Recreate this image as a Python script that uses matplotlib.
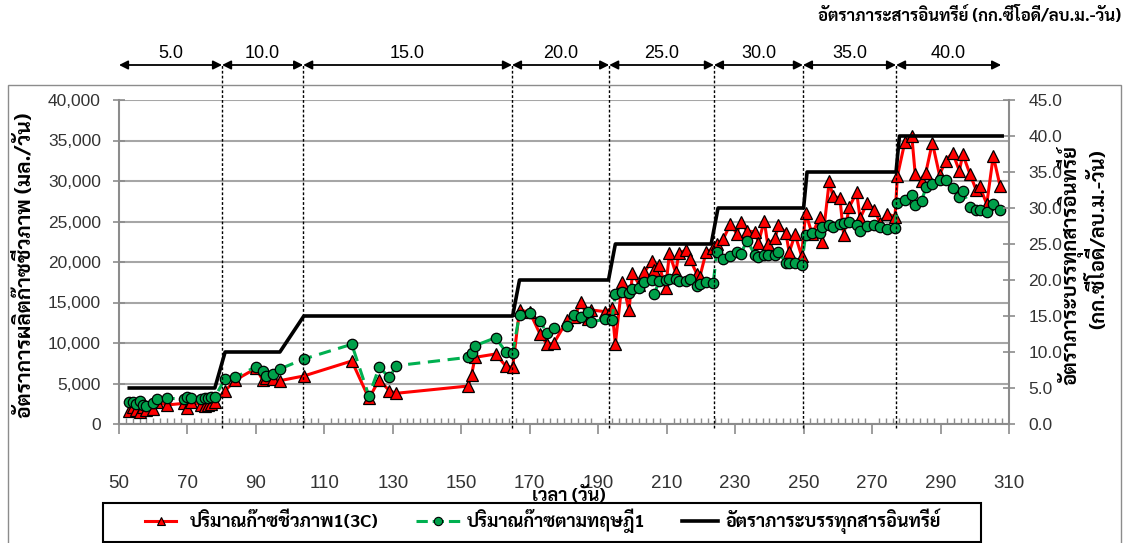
import matplotlib
matplotlib.use("Agg")
import matplotlib.pyplot as plt
from matplotlib import font_manager as fm
from matplotlib.ft2font import FT2Font
from matplotlib.patches import Rectangle
from matplotlib.lines import Line2D
from matplotlib.ticker import MultipleLocator, FuncFormatter
import matplotlib.transforms as mtransforms

# ---------------- data ----------------
days = [53, 54, 55, 56, 57, 58, 60, 61, 64, 69, 70, 71, 74, 75, 76, 77, 78,
        81, 84, 90, 92, 93, 95, 97, 104, 118, 123, 126, 129, 131,
        152, 153, 154, 160, 163, 165,
        167, 170, 173, 175, 177, 181, 183, 185, 187, 188, 192, 194,
        195, 197, 199, 200, 202, 203.5, 205.6, 206.4, 207.8, 209.7, 210.8,
        212.6, 213.6, 215.6, 216.8, 218.8, 219.7, 221.5, 223.6,
        224.6, 226.5, 228.6, 230.5, 231.6, 233.5, 235.8, 236.8, 238.5,
        239.5, 241.7, 242.6, 244.8, 245.8, 247.5, 249.4,
        250.6, 252.5, 254.7, 255.5, 257.5, 258.5, 260.6, 261.7, 263.4,
        265.5, 266.5, 268.6, 270.7, 272.3, 274.5, 276.7,
        277.4, 279.6, 281.6, 282.6, 284.5, 285.7, 287.6, 289.7, 291.5,
        293.5, 295.5, 296.5, 298.6, 300.4, 301.4, 303.5, 305.4, 307.4]

biogas = [1600, 2100, 1700, 1500, 2100, 1700, 1900, 2700, 2350, 2550, 2000, 2750, 2350, 2250, 2400, 2500, 2750,
          4100, 5430, 6870, 5430, 5640, 5510, 5350, 5930, 7780, 3170, 5430, 4115, 3790,
          4690, 6050, 8230, 8640, 7160, 7000,
          14075, 13800, 11110, 9877, 9960, 12840, 13200, 15100, 12960, 14075, 13870, 14280,
          9877, 17570, 14075, 18600, 17200, 18725, 20160, 19000, 19630, 16750, 21070,
          18725, 21070, 21480, 20370, 18520, 18190, 21200, 21690,
          22220, 22800, 24690, 23500, 24980, 23800, 23750, 22380, 25100,
          22220, 22920, 24570, 23600, 21200, 23400, 20740,
          26090, 23420, 25510, 22510, 30000, 28190, 27860, 23330, 26830,
          28600, 25390, 27320, 26420, 24860, 25930, 25600,
          30620, 34850, 35560, 30860, 30040, 31030, 34730, 30740, 32510,
          33500, 31270, 33290, 30860, 28890, 29380, 27160, 33090, 29380]

theory = [2670, 2750, 2500, 2900, 2350, 2200, 2650, 3050, 3170, 3100, 3300, 3200, 3100, 3200, 3250, 3300, 3370,
          5550, 5760, 7080, 6540, 5930, 6170, 6790, 8025, 9840, 3460, 7000, 5760, 7200,
          8230, 8725, 9670, 10650, 8930, 8800,
          13500, 13740, 12750, 11190, 11810, 12100, 13460, 13250, 13870, 12630, 12920, 12840,
          16050, 16340, 16130, 16670, 16750, 17490, 17780, 16050, 17690, 17780, 17900,
          17860, 17690, 17650, 17900, 17080, 17280, 17570, 17370,
          21200, 20330, 20800, 21200, 21000, 22630, 20860, 20580, 20860,
          20860, 20860, 21270, 19900, 19900, 19900, 19630,
          23330, 23620, 23620, 24360, 24570, 24280, 24690, 24860, 24980,
          24570, 23870, 24440, 24570, 24360, 24030, 24150,
          27320, 27650, 28270, 27040, 27530, 29220, 29630, 30120, 30120,
          29090, 28070, 28770, 26750, 26420, 26420, 26210, 27160, 26420]

olr_days = [53, 78, 81, 97, 104, 165, 167, 193, 195, 223, 225, 250, 251, 277, 278, 308]
olr_vals = [5, 5, 10, 10, 15, 15, 20, 20, 25, 25, 30, 30, 35, 35, 40, 40]

phase_edges = [50, 80.1, 103.8, 164.8, 193.2, 223.8, 249.8, 277.0, 307.7]
phase_labels = ["5.0", "10.0", "15.0", "20.0", "25.0", "30.0", "35.0", "40.0"]

x_ticks = list(range(50, 311, 20))
left_ticks = list(range(0, 40001, 5000))
right_ticks = [i * 5.0 for i in range(10)]

label_biogas = "ปริมาณก๊าซชีวภาพ1(3C)"
label_theory = "ปริมาณก๊าซตามทฤษฎี1"
label_olr = "อัตราภาระบรรทุกสารอินทรีย์"
title_top = "อัตราภาระสารอินทรีย์ (กก.ซีโอดี/ลบ.ม.-วัน)"
ylabel_left = "อัตราการผลิตก๊าซชีวภาพ (มล./วัน)"
ylabel_right = ["อัตราภาระบรรทุกสารอินทรีย์", "(กก.ซีโอดี/ลบ.ม.-วัน)"]
xlabel = "เวลา (วัน)"


# ---------------- fonts ----------------
def _has_thai(path):
    try:
        cmap = FT2Font(path).get_charmap()
    except Exception:
        return False
    return 0x0E01 in cmap and 0x0E35 in cmap


thai_names = sorted({f.name for f in fm.fontManager.ttflist if _has_thai(f.fname)})
preferred = ["Laksaman", "TH Sarabun New", "Sarabun", "Loma", "Garuda",
             "Noto Sans Thai", "Noto Sans Thai Looped", "Umpush", "Waree", "Norasi", "Kinnari"]
THAI = next((n for n in preferred if n in thai_names), thai_names[0] if thai_names else "DejaVu Sans")
THAI_FAM = [THAI, "DejaVu Sans"]
NUM_FAM = ["Liberation Sans Narrow", "Liberation Sans", "DejaVu Sans"]

W, H = 1126, 543
fig = plt.figure(figsize=(W / 100, H / 100), dpi=100)


def fx(px):
    return px / W


def fy(py):
    return 1 - py / H


# outer chart frame
fig.patches.append(Rectangle((fx(8), -0.05), fx(1121) - fx(8), fy(85) + 0.05,
                             transform=fig.transFigure, fill=False,
                             ec="#8c8c8c", lw=1.0, zorder=0))

ax = fig.add_axes([fx(119), fy(424), fx(1009) - fx(119), fy(100) - fy(424)])
ax2 = ax.twinx()

grey = "#8c8c8c"
txt_grey = "#333333"

ax.set_xlim(50, 310)
ax.set_ylim(0, 40000)
ax2.set_ylim(0, 45)

ax.set_yticks(left_ticks)
ax.yaxis.set_major_formatter(FuncFormatter(lambda v, p: f"{int(v):,}"))
ax2.set_yticks(right_ticks)
ax2.yaxis.set_major_formatter(FuncFormatter(lambda v, p: f"{v:.1f}"))
ax.set_xticks(x_ticks)
ax.xaxis.set_minor_locator(MultipleLocator(2))

ax.grid(axis="y", color="#a6a6a6", lw=1.5, zorder=0)
ax.set_axisbelow(True)

for a in (ax, ax2):
    a.spines["top"].set_visible(False)
ax2.spines["left"].set_visible(False)
ax2.spines["bottom"].set_visible(False)
for s in ("left", "bottom"):
    ax.spines[s].set_color(grey)
    ax.spines[s].set_linewidth(1.5)
ax.spines["right"].set_visible(False)
ax2.spines["right"].set_color(grey)
ax2.spines["right"].set_linewidth(1.5)

ax.tick_params(axis="y", direction="inout", length=8, width=1.2, color=grey,
               labelsize=12.5, labelcolor=txt_grey, pad=9)
ax2.tick_params(axis="y", direction="inout", length=8, width=1.2, color=grey,
                labelsize=12.5, labelcolor=txt_grey, pad=10)
ax.tick_params(axis="x", which="major", direction="out", length=7, width=1.2,
               color=grey, labelsize=13.5, labelcolor=txt_grey, pad=30)
ax.tick_params(axis="x", which="minor", direction="in", length=4, width=1.0, color=grey)
for lab in ax.get_yticklabels() + ax2.get_yticklabels():
    lab.set_family(["Liberation Sans", "DejaVu Sans"])
for lab in ax.get_xticklabels():
    lab.set_family(NUM_FAM)

# series
l_bio, = ax.plot(days, biogas, color="#ff0000", lw=2.2, marker="^", ms=8.5,
                 mfc="#ff0000", mec="black", mew=0.9, zorder=3)
l_the, = ax.plot(days, theory, color="#00b050", lw=2.2, ls=(0, (4, 2.5)), marker="o",
                 ms=7.5, mfc="#00a04a", mec="black", mew=0.9, zorder=4)
l_olr, = ax2.plot(olr_days, olr_vals, color="black", lw=2.6, zorder=5)

# phase boundaries and OLR arrows above the plot
trans = mtransforms.blended_transform_factory(ax.transData, ax.transAxes)
arrow_y = 1 + 35 / 324
for e in phase_edges[1:-1]:
    ax.add_line(Line2D([e, e], [-0.013, arrow_y], transform=trans, color="black",
                       lw=1.0, ls=(0, (2, 1.5)), clip_on=False, zorder=6))
for i, lab in enumerate(phase_labels):
    a0, a1 = phase_edges[i], phase_edges[i + 1]
    ax.annotate("", xy=(a1, arrow_y), xytext=(a0, arrow_y), xycoords=trans,
                textcoords=trans,
                arrowprops=dict(arrowstyle="<|-|>", color="black", lw=1.3,
                                mutation_scale=13, shrinkA=0, shrinkB=0),
                annotation_clip=False)
    ax.text((a0 + a1) / 2, 1 + 47 / 324, lab, transform=trans, ha="center",
            va="center", fontsize=13, family=NUM_FAM, color="black")

# axis titles
ax.text(-0.1056, 0.49, ylabel_left, transform=ax.transAxes, rotation=90,
        ha="center", va="center", fontsize=15, fontweight="bold", family=THAI_FAM)
ax.text(1.0685, 0.49, ylabel_right[0], transform=ax.transAxes, rotation=90,
        ha="center", va="center", fontsize=14.5, fontweight="bold", family=THAI_FAM)
ax.text(1.099, 0.57, ylabel_right[1], transform=ax.transAxes, rotation=90,
        ha="center", va="center", fontsize=14.5, fontweight="bold", family=THAI_FAM)
ax.text(0.506, -0.222, xlabel, transform=ax.transAxes, ha="center", va="center",
        fontsize=13, fontweight="bold", family=THAI_FAM)
fig.text(fx(1121), fy(16), title_top, ha="right", va="center", fontsize=12,
         fontweight="bold", family=THAI_FAM)

# legend box
fig.patches.append(Rectangle((fx(103), fy(542)), fx(981) - fx(103), fy(503) - fy(542),
                             transform=fig.transFigure, fill=False, ec="black", lw=1.5))
ly = fy(521)
entries = [(l_bio, 145, 176, 190, label_biogas),
           (l_the, 416, 460, 467, label_theory),
           (l_olr, 682, 718, 725, label_olr)]
for line, x0, x1, xt, text in entries:
    fig.lines.append(Line2D([fx(x0), fx(x1)], [ly, ly], transform=fig.transFigure,
                            color=line.get_color(), lw=line.get_linewidth(),
                            ls=line.get_linestyle()))
    if line.get_marker() not in (None, "None", ""):
        fig.lines.append(Line2D([fx((x0 + x1) / 2)], [ly], transform=fig.transFigure,
                                marker=line.get_marker(), ms=6, mfc=line.get_markerfacecolor(),
                                mec="black", mew=0.8, ls="none"))
    fig.text(fx(xt), ly, text, ha="left", va="center", fontsize=13,
             fontweight="bold", family=THAI_FAM)

fig.savefig("out.png", dpi=100)
